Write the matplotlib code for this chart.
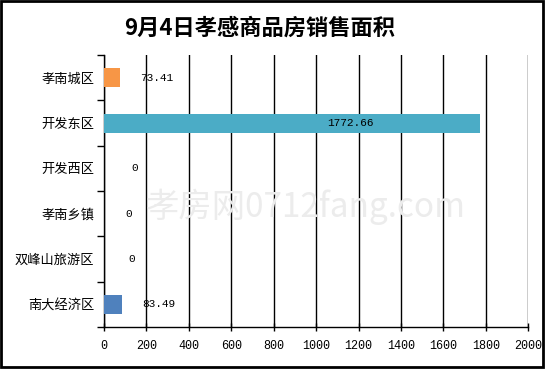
import matplotlib
matplotlib.use('Agg')
import matplotlib.pyplot as plt
from matplotlib.patches import Rectangle
import numpy as np

plt.rcParams['font.family'] = ['Noto Sans CJK SC', 'DejaVu Sans']

categories = ['孝南城区', '开发东区', '开发西区', '孝南乡镇', '双峰山旅游区', '南大经济区']
values = [73.41, 1772.66, 0, 0, 0, 83.49]
value_labels = ['73.41', '1772.66', '0', '0', '0', '83.49']
bar_colors = ['#F79646', '#4BACC6', '#4F81BD', '#4F81BD', '#4F81BD', '#4F81BD']
# label positions (data units)
label_x = [170, 1050, 130, 100, 115, 180]
x_ticks = list(range(0, 2001, 200))

fig = plt.figure(figsize=(5.46, 3.69), dpi=100)
ax = fig.add_axes([0.1905, 0.1138, 0.777, 0.737])

y = np.arange(len(categories))[::-1]
ax.barh(y, values, height=0.42, color=bar_colors, zorder=3)

for yi, lx, txt in zip(y, label_x, value_labels):
    ax.text(lx, yi, txt, ha='left', va='center', fontsize=8,
            family=['Liberation Mono', 'DejaVu Sans Mono'], zorder=4)

ax.set_xlim(0, 2000)
ax.set_ylim(-0.5, len(categories) - 0.5)
ax.set_xticks(x_ticks)
ax.set_xticklabels([str(t) for t in x_ticks], fontsize=8.5,
                   family=['Liberation Mono', 'DejaVu Sans Mono'])
ax.set_yticks(y)
ax.set_yticklabels(categories, fontsize=9.5)
ax.tick_params(axis='y', length=0, pad=7)
ax.set_yticks(np.arange(-0.5, len(categories), 1), minor=True)
ax.tick_params(axis='y', which='minor', length=5, width=1, direction='out')
ax.tick_params(axis='x', length=6, width=1, direction='inout', pad=6)

ax.grid(axis='x', color='black', linewidth=1, zorder=1)
for s in ['top', 'right']:
    ax.spines[s].set_visible(False)
for s in ['left', 'bottom']:
    ax.spines[s].set_linewidth(1)

fig.text(0.476, 0.924, '9月4日孝感商品房销售面积', ha='center', va='center',
         fontsize=16, fontweight='bold')

# watermark
fig.text(0.56, 0.44, '孝房网0712fang.com', ha='center', va='center',
         fontsize=24, color='#ececec', zorder=0.5)

fig.patches.append(Rectangle((0.002, 0.006), 0.993, 0.99, transform=fig.transFigure,
                             fill=False, edgecolor='black', linewidth=2))

fig.savefig('out.png', dpi=100)
